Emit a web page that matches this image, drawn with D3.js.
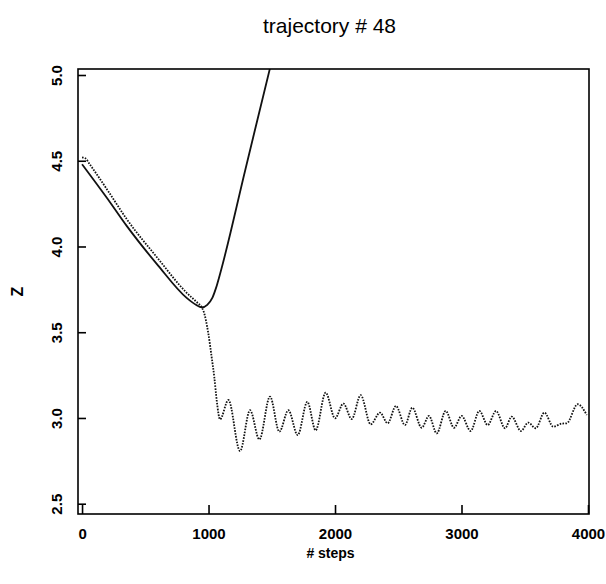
<!DOCTYPE html>
<html><head><meta charset="utf-8">
<script src="https://cdn.jsdelivr.net/npm/d3@7"></script>
<style>body{margin:0;background:#fff}svg{display:block}</style>
</head><body>
<svg id="c" width="606" height="584"></svg>
<script>
const titleText = "trajectory # 48";
const xLabel = "# steps";
const yLabel = "Z";
const xTicks = [0, 1000, 2000, 3000, 4000];
const yTicks = [2.5, 3.0, 3.5, 4.0, 4.5, 5.0];

// solid trajectory
const solidSteps  = [0, 200, 353, 600, 827, 900, 946, 990, 1030, 1060, 1091, 1290, 1486, 1530];
const solidValues = [4.48, 4.28, 4.12, 3.89, 3.70, 3.66, 3.645, 3.66, 3.70, 3.76, 3.84, 4.445, 5.04, 5.17];

// dotted trajectory
const dotSteps = [0, 25, 60, 200, 353, 600, 827, 900, 946, 959, 999, 1025, 1046, 1065, 1091,
  1157, 1249, 1328, 1402, 1486, 1560, 1631, 1705, 1781, 1847, 1926, 2000, 2066, 2132, 2203,
  2282, 2356, 2416, 2482, 2553, 2611, 2685, 2743, 2804, 2875, 2941, 3001, 3072, 3141, 3207,
  3273, 3344, 3397, 3470, 3528, 3587, 3655, 3726, 3792, 3832, 3918, 3990];
const dotValues = [4.52, 4.515, 4.48, 4.33, 4.16, 3.93, 3.73, 3.68, 3.645, 3.626, 3.49, 3.353, 3.236, 3.10, 2.992,
  3.105, 2.807, 3.045, 2.875, 3.125, 2.92, 3.045, 2.90, 3.094, 2.928, 3.148, 2.998, 3.084, 2.994, 3.133,
  2.963, 3.031, 2.969, 3.07, 2.959, 3.06, 2.943, 3.012, 2.91, 3.041, 2.943, 3.012, 2.924, 3.041, 2.959,
  3.041, 2.94, 3.008, 2.924, 2.973, 2.94, 3.031, 2.949, 2.967, 2.969, 3.08, 3.018];

const W = 606, H = 584;
const m = {left: 78, right: 589, top: 69, bottom: 514};
const x = d3.scaleLinear().domain([-32, 4008]).range([m.left, m.right]);
const y = d3.scaleLinear().domain([2.44, 5.035]).range([m.bottom, m.top]);

const svg = d3.select("#c");
const font = "'Liberation Sans', Arial, Helvetica, sans-serif";

svg.append("defs").append("clipPath").attr("id", "clip")
  .append("rect").attr("x", m.left).attr("y", m.top)
  .attr("width", m.right - m.left).attr("height", m.bottom - m.top);

const g = svg.append("g").attr("clip-path", "url(#clip)");

const solid = solidSteps.map((s, i) => [s, solidValues[i]]);
const dotted = dotSteps.map((s, i) => [s, dotValues[i]]);

const line = d3.line().x(d => x(d[0])).y(d => y(d[1])).curve(d3.curveMonotoneX);

g.append("path").attr("d", line(solid)).attr("fill", "none")
  .attr("stroke", "#111").attr("stroke-width", 1.8);
g.append("path").attr("d", line(dotted)).attr("fill", "none")
  .attr("stroke", "#111").attr("stroke-width", 1.8).attr("stroke-dasharray", "1.6,1.3");

// frame
svg.append("rect").attr("x", m.left).attr("y", m.top)
  .attr("width", m.right - m.left).attr("height", m.bottom - m.top)
  .attr("fill", "none").attr("stroke", "#000").attr("stroke-width", 1.6);

// x axis
const xa = svg.append("g").attr("transform", `translate(0,${m.bottom})`)
  .call(d3.axisBottom(x).tickValues(xTicks).tickSizeInner(-9).tickSizeOuter(0).tickFormat(d3.format("d")));
xa.select(".domain").remove();
xa.selectAll("line").attr("stroke", "#000").attr("stroke-width", 1.6);
xa.selectAll("text").attr("y", 14).attr("dy", "0.71em")
  .attr("font-family", font).attr("font-size", 15).attr("font-weight", "bold").attr("fill", "#000");

// y axis
const ya = svg.append("g").attr("transform", `translate(${m.left},0)`)
  .call(d3.axisLeft(y).tickValues(yTicks).tickSizeInner(-8).tickSizeOuter(0).tickFormat(d3.format(".1f")));
ya.select(".domain").remove();
ya.selectAll("line").attr("stroke", "#000").attr("stroke-width", 1.6);
ya.selectAll("text")
  .attr("x", null).attr("dy", null)
  .attr("text-anchor", "middle")
  .attr("transform", "translate(-16,0) rotate(-90)")
  .attr("font-family", font).attr("font-size", 15).attr("font-weight", "bold").attr("fill", "#000");

// title
svg.append("text").attr("x", (m.left + m.right) / 2 - 4).attr("y", 33)
  .attr("text-anchor", "middle").attr("font-family", font).attr("font-size", 21)
  .attr("fill", "#000").text(titleText);

// x label
svg.append("text").attr("x", (m.left + m.right) / 2 - 3).attr("y", 558)
  .attr("text-anchor", "middle").attr("font-family", font).attr("font-size", 14)
  .attr("font-weight", "bold").attr("fill", "#000").text(xLabel);

// y label
svg.append("text").attr("transform", `translate(23,${(m.top + m.bottom) / 2}) rotate(-90)`)
  .attr("text-anchor", "middle").attr("font-family", font).attr("font-size", 16)
  .attr("font-weight", "bold").attr("fill", "#000").text(yLabel);
</script>
</body></html>
